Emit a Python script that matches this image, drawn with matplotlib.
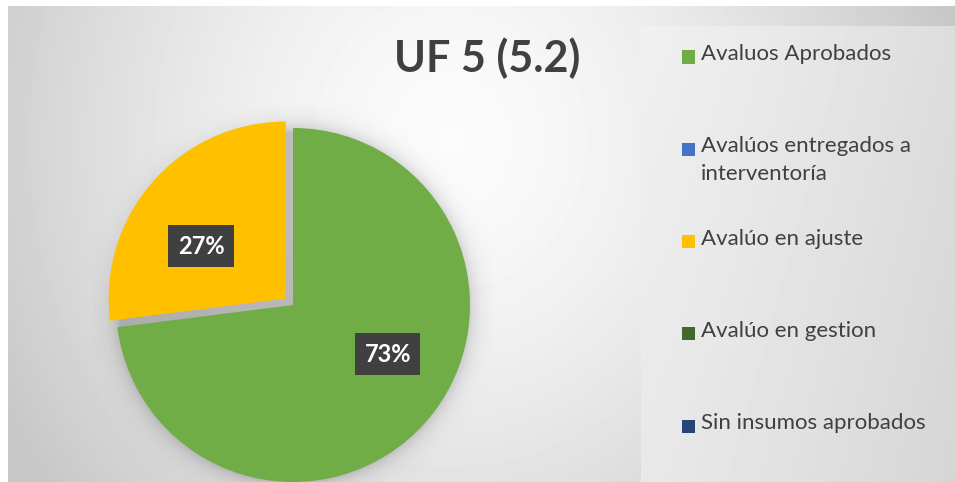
import numpy as np
import matplotlib
matplotlib.use("Agg")
import matplotlib.pyplot as plt
from matplotlib.patches import Rectangle
from matplotlib.transforms import offset_copy

# datos
categorias = ["Avaluos Aprobados", "Avalúos entregados a\ninterventoría",
              "Avalúo en ajuste", "Avalúo en gestion", "Sin insumos aprobados"]
valores = [73, 0, 27, 0, 0]
colores = ["#70AD47", "#4472C4", "#FFC000", "#43682B", "#264478"]
titulo = "UF 5 (5.2)"

W, H = 955, 482
plt.rcParams['font.family'] = ['Lato', 'DejaVu Sans']

fig = plt.figure(figsize=(W / 100, H / 100), dpi=100)
fig.patch.set_facecolor("white")

def fx(x):
    return x / W

def fy(y):
    return 1 - y / H

# fondo con degradado radial
bg = fig.add_axes([fx(8), 0, (W - 8) / W, (H - 6) / H])
bg.set_axis_off()
yy, xx = np.mgrid[6:H, 8:W]
d = np.sqrt(((xx - 450) / 1.0) ** 2 + ((yy - 140) / 1.1) ** 2)
v = np.clip(0.985 - 0.21 * (d / 520) ** 1.5, 0.78, 1)
bg.imshow(v, cmap="gray", vmin=0, vmax=1, extent=(8, W, H, 6), aspect="auto")
# panel de leyenda
py, px_ = np.mgrid[26:H, 641:W]
pv = 0.94 - 0.075 * ((px_ - 641) / 314) ** 1.2 - 0.03 * ((py - 26) / 456)
bg.imshow(pv, cmap="gray", vmin=0, vmax=1, extent=(641, W, H, 26), aspect="auto")
bg.set_xlim(8, W)
bg.set_ylim(H, 6)

# pastel
R = 177
half = 200
ax = fig.add_axes([fx(293 - half), (H - 305 - half) / H, 2 * half / W, 2 * half / H])
lim = half / R

# sombra suave
g = np.linspace(-lim, lim, 400)
gx, gy = np.meshgrid(g, g)
r = np.sqrt(gx ** 2 + (gy + 0.01) ** 2)
alpha = np.where(r > 0.98, 0.22 * np.exp(-(r - 0.98) / 0.05), 0.22)
sh = np.zeros((400, 400, 4))
sh[..., 3] = alpha
ax.imshow(sh, extent=(-lim, lim, -lim, lim), origin="lower", zorder=0)

explode = [0, 0, 0.055, 0, 0]
wedges, texts, autotexts = ax.pie(
    valores, colors=colores, startangle=90, counterclock=False,
    explode=explode, radius=1.0,
    autopct=lambda p: f"{p:.0f}%" if p > 0 else "",
    pctdistance=0.6,
    wedgeprops=dict(linewidth=0), frame=True)
ax.set_axis_off()
ax.set_xlim(-lim, lim)
ax.set_ylim(-lim, lim)
for w in wedges:
    w.set_zorder(2)

# desplazamiento de etiquetas en pixeles (dx derecha, dy abajo)
desp = {"73%": (15, -21), "27%": (-5, 18)}
for t in autotexts:
    if t.get_text():
        t.set_color("white")
        t.set_fontsize(17)
        t.set_fontweight("bold")
        t.set_zorder(5)
        dx, dy = desp.get(t.get_text(), (0, 0))
        t.set_transform(offset_copy(ax.transData, fig=fig, x=dx, y=-dy, units="dots"))
        t.set_bbox(dict(boxstyle="square,pad=0.4", facecolor="#404040",
                        edgecolor="none"))

# titulo
fig.text(fx(487), fy(58), titulo, fontsize=31, fontweight="bold",
         color="#404040", ha="center", va="center")

# leyenda
for i, (nom, col) in enumerate(zip(categorias, colores)):
    yc = 57 + i * 92.3
    fig.patches.append(Rectangle((fx(682), fy(yc + 6.5)), 13 / W, 13 / H,
                                 transform=fig.transFigure, facecolor=col,
                                 edgecolor="none"))
    fig.text(fx(701), fy(yc - 13), nom, fontsize=16, color="#404040",
             ha="left", va="top", linespacing=1.45)

fig.savefig("out.png", dpi=100)
